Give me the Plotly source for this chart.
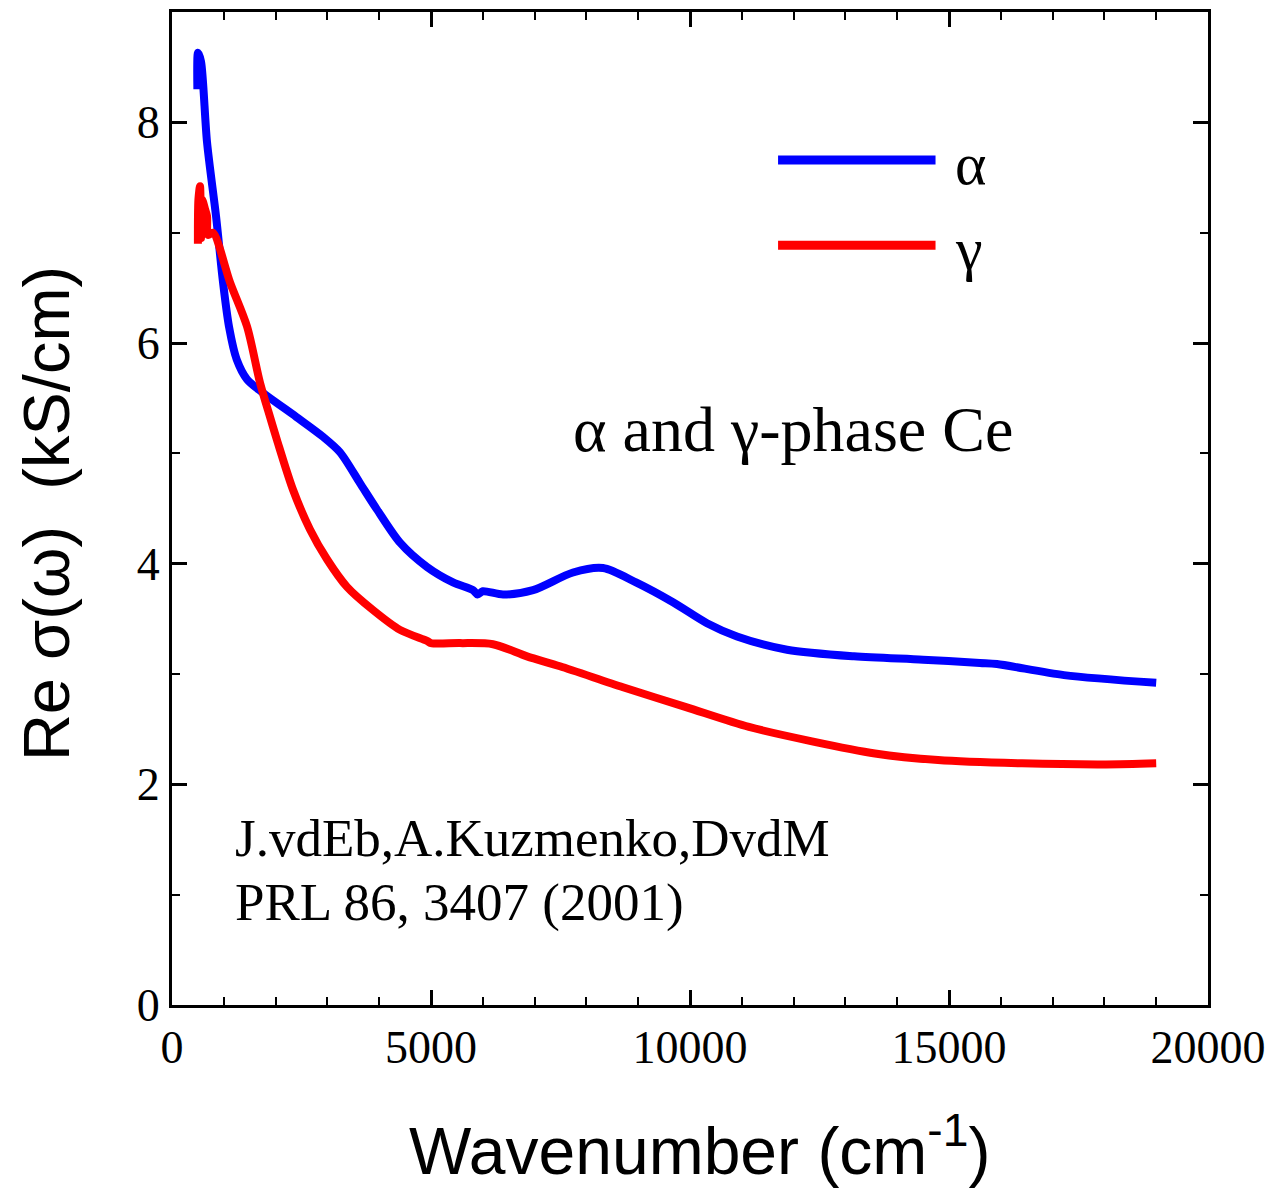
import plotly.graph_objects as go

# alpha-phase Ce (blue)
alpha_x = [490, 502, 560, 676, 850, 985, 1100, 1250, 1450, 1750, 2400, 2915, 3243, 3629, 3958,
           4402, 4923, 5425, 5811, 5900, 6000, 6390, 6969, 7741, 8320, 8958, 9672, 10328,
           10907, 11873, 13166, 14500, 15598, 15926, 17220, 19000]
alpha_y = [8.30, 8.63, 8.55, 7.82, 7.15, 6.55, 6.15, 5.85, 5.67, 5.55, 5.33, 5.15, 5.01, 4.73, 4.49,
           4.19, 3.97, 3.83, 3.76, 3.72, 3.75, 3.72, 3.76, 3.92, 3.96, 3.83, 3.65, 3.46,
           3.34, 3.22, 3.16, 3.13, 3.10, 3.09, 2.99, 2.92]

# gamma-phase Ce (red)
gamma_x = [500, 510, 541, 560, 580, 640, 676, 695, 791, 1120, 1448, 1699, 1892, 2027, 2336,
           2664, 2992, 3378, 3880, 4402, 4923, 5000, 5560, 6197, 6853, 7490, 8707, 9923, 11139,
           12355, 13571, 14788, 16409, 18031, 19000]
gamma_y = [6.90, 7.30, 7.42, 6.95, 7.30, 7.21, 7.15, 6.98, 7.00, 6.55, 6.15, 5.64, 5.33, 5.12, 4.67,
           4.31, 4.04, 3.79, 3.58, 3.40, 3.30, 3.28, 3.28, 3.27, 3.16, 3.07, 2.88, 2.70, 2.52,
           2.39, 2.28, 2.22, 2.19, 2.18, 2.19]

x_ticks = [0, 5000, 10000, 15000, 20000]
y_ticks = [0, 2, 4, 6, 8]

serif = "Liberation Serif"
sans = "Liberation Sans"

fig = go.Figure()
fig.add_trace(go.Scatter(x=alpha_x, y=alpha_y, mode="lines", name="α",
                         line=dict(color="#0000ff", width=8, shape="spline", smoothing=0.8),
                         showlegend=False))
fig.add_trace(go.Scatter(x=gamma_x, y=gamma_y, mode="lines", name="γ",
                         line=dict(color="#ff0000", width=8, shape="spline", smoothing=0.8),
                         showlegend=False))

axis_common = dict(showline=True, linecolor="black", linewidth=3, mirror="ticks",
                   ticks="inside", tickcolor="black", tickwidth=3, ticklen=15,
                   showgrid=False, zeroline=False, automargin=False,
                   tickfont=dict(family=serif, size=46, color="black"))

fig.update_xaxes(range=[0, 20000], tickvals=x_ticks, ticktext=[str(v) for v in x_ticks],
                 minor=dict(dtick=1000, ticks="inside", ticklen=8, tickwidth=2, tickcolor="black"),
                 ticklabelstandoff=0,
                 **axis_common)
fig.update_yaxes(range=[0, 9], tickvals=y_ticks, ticktext=[str(v) for v in y_ticks],
                 minor=dict(dtick=1, ticks="inside", ticklen=8, tickwidth=2, tickcolor="black"),
                 **axis_common)

# axis titles
fig.add_annotation(xref="paper", yref="paper", x=0.509, y=-0.142,
                   text="Wavenumber (cm<sup>-1</sup>)", showarrow=False,
                   xanchor="center", yanchor="middle",
                   font=dict(family=sans, size=66, color="black"))
fig.add_annotation(xref="paper", yref="paper", x=-0.121, y=0.495,
                   text="Re σ(ω)  (kS/cm)", showarrow=False, textangle=-90,
                   xanchor="center", yanchor="middle",
                   font=dict(family=sans, size=65, color="black"))

# legend drawn in paper coordinates
legend_items = [("α", "#0000ff", 0.851), ("γ", "#ff0000", 0.765)]
for label, color, yp in legend_items:
    fig.add_shape(type="line", xref="paper", yref="paper", x0=0.585, x1=0.737, y0=yp, y1=yp,
                  line=dict(color=color, width=9))
    fig.add_annotation(xref="paper", yref="paper", x=0.754, y=yp - 0.004, text=label, showarrow=False,
                       xanchor="left", yanchor="middle",
                       font=dict(family=serif, size=60, color="black"))

fig.add_annotation(xref="paper", yref="paper", x=0.599, y=0.58, text="α and γ-phase Ce",
                   showarrow=False, xanchor="center", yanchor="middle",
                   font=dict(family=serif, size=64, color="black"))
fig.add_annotation(xref="paper", yref="paper", x=0.059, y=0.168, text="J.vdEb,A.Kuzmenko,DvdM",
                   showarrow=False, xanchor="left", yanchor="middle",
                   font=dict(family=serif, size=53, color="black"))
fig.add_annotation(xref="paper", yref="paper", x=0.059, y=0.103, text="PRL 86, 3407 (2001)",
                   showarrow=False, xanchor="left", yanchor="middle",
                   font=dict(family=serif, size=53, color="black"))

fig.update_layout(width=1266, height=1185, plot_bgcolor="white", paper_bgcolor="white",
                  margin=dict(l=164, r=66, t=4, b=188))

fig.write_html("out.html")
